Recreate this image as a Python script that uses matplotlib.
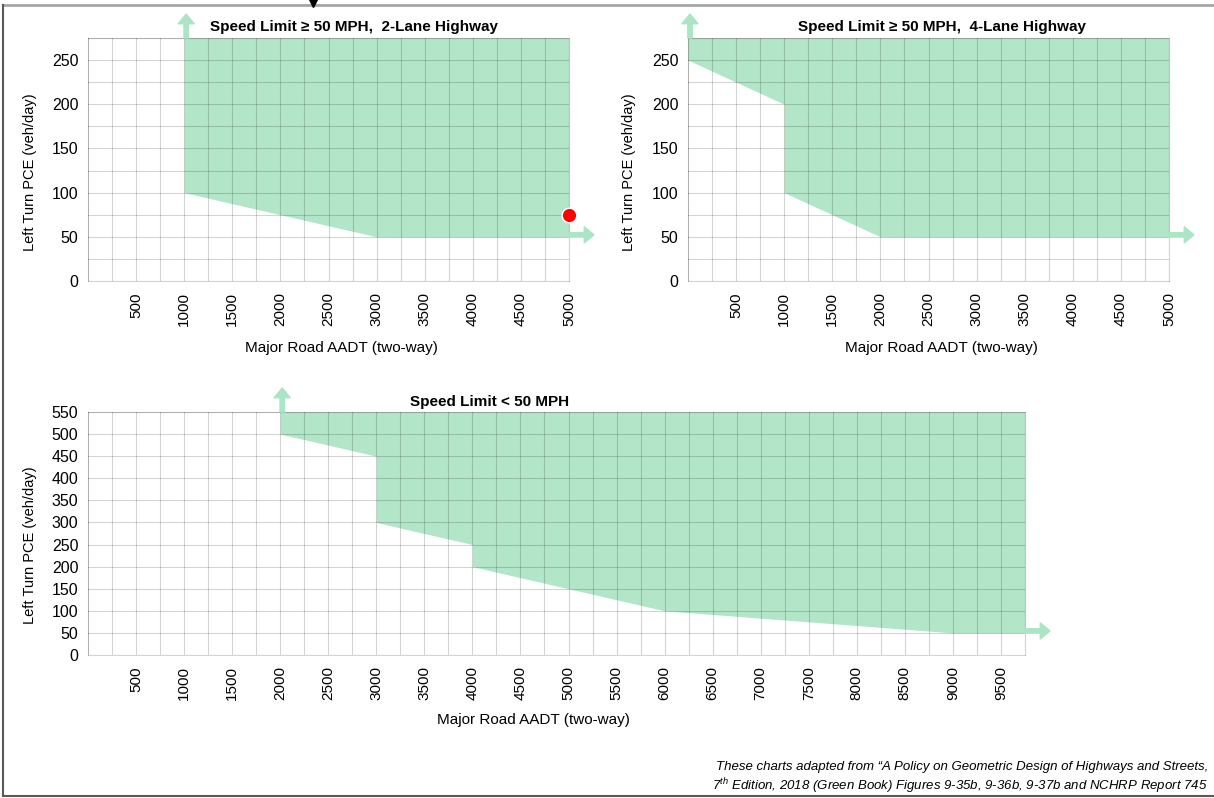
import numpy as np
import matplotlib
matplotlib.use('Agg')
import matplotlib.pyplot as plt
from matplotlib.lines import Line2D

plt.rcParams['font.family'] = ['Liberation Sans Narrow', 'Liberation Sans', 'DejaVu Sans']
plt.rcParams['mathtext.fontset'] = 'custom'
plt.rcParams['mathtext.it'] = 'Liberation Sans:italic'
plt.rcParams['mathtext.rm'] = 'Liberation Sans'

# ---- data (boundary of the "left-turn lane warranted" zone) ----
aadt_2lane = [1000, 2000, 3000, 5000]
pce_2lane = [100, 75, 50, 50]

aadt_4lane = [0, 500, 1000, 1000, 1500, 2000, 5000]
pce_4lane = [250, 225, 200, 100, 75, 50, 50]

aadt_low = [2000, 2500, 3000, 3000, 3500, 4000, 4000, 4500, 5000, 5500, 6000, 9000, 9750]
pce_low = [500, 475, 450, 300, 275, 250, 200, 175, 150, 125, 100, 50, 50]

# example point on the 2-lane chart
pt_aadt, pt_pce = 5000, 75

titles = ['Speed Limit \u2265 50 MPH,  2-Lane Highway',
          'Speed Limit \u2265 50 MPH,  4-Lane Highway',
          'Speed Limit < 50 MPH']
xlab = 'Major Road AADT (two-way)'
ylab = 'Left Turn PCE (veh/day)'

W, H = 1214, 798
fill_c = '#b3e6c9'
arrow_c = '#abe5c5'


def fx(px):
    return px / W


def fy(py):
    return 1 - py / H


fig = plt.figure(figsize=(W / 100, H / 100), dpi=100)


def make_axes(left, right, top, bottom, xmax, ymax, ystep, ylabstep):
    ax = fig.add_axes([fx(left), fy(bottom), fx(right - left), (bottom - top) / H])
    ax.set_xlim(0, xmax)
    ax.set_ylim(0, ymax)
    xt = np.arange(0, xmax + 1, 250)
    ax.set_xticks(xt)
    ax.set_xticklabels(['' if (v % 500 or v == 0) else str(v) for v in xt],
                       rotation=90, fontsize=11)
    yt = np.arange(0, ymax + 1, ystep)
    ax.set_yticks(yt)
    ax.set_yticklabels([str(v) if v % ylabstep == 0 else '' for v in yt], fontsize=11.5)
    ax.tick_params(length=0, pad=7)
    ax.tick_params(axis='x', pad=8)
    ax.grid(True, color='black', alpha=0.17, lw=0.8)
    for s in ax.spines.values():
        s.set_edgecolor((0, 0, 0, 0.17))
        s.set_linewidth(0.8)
    return ax


def arrows(ax, x_up, ymax, y_right, xmax, up_px, right_px, h_px, w_px):
    kw = dict(arrowstyle='simple,head_length=0.7,head_width=1.15,tail_width=0.32',
              color=arrow_c, shrinkA=0, shrinkB=0, mutation_scale=10)
    dx = 2 * xmax / w_px
    dy = 2 * ymax / h_px
    ax.annotate('', xy=(x_up + dx, 1 + up_px / h_px), xycoords=('data', 'axes fraction'),
                xytext=(x_up + dx, 1.0), textcoords=('data', 'axes fraction'),
                arrowprops=kw, annotation_clip=False)
    ax.annotate('', xy=(1 + right_px / w_px, y_right + dy), xycoords=('axes fraction', 'data'),
                xytext=(1.0, y_right + dy), textcoords=('axes fraction', 'data'),
                arrowprops=kw, annotation_clip=False)


# top-left: 2-lane highway
ax1 = make_axes(88, 569, 38, 281, 5000, 275, 25, 50)
ax1.fill_between(aadt_2lane, pce_2lane, 275, color=fill_c, lw=0, zorder=1)
arrows(ax1, 1000, 275, 50, 5000, 24, 25, 243, 481)
ax1.plot(pt_aadt, pt_pce, 'o', ms=10.5, mfc='#ff0000', mec='white', mew=1,
         clip_on=False, zorder=6)

# top-right: 4-lane highway
ax2 = make_axes(688, 1169, 38, 281, 5000, 275, 25, 50)
ax2.fill_between(aadt_4lane, pce_4lane, 275, color=fill_c, lw=0, zorder=1)
arrows(ax2, 0, 275, 50, 5000, 24, 25, 243, 481)

# bottom: speed limit < 50 mph
ax3 = make_axes(88, 1025, 412, 655, 9750, 550, 50, 50)
ax3.fill_between(aadt_low, pce_low, 550, color=fill_c, lw=0, zorder=1)
arrows(ax3, 2000, 550, 50, 9750, 24, 25, 243, 937)

# titles and axis labels
for tx, ty, t in [(354, 27, titles[0]), (942, 27, titles[1]), (490, 402, titles[2])]:
    fig.text(fx(tx), fy(ty), t, ha='center', va='center', fontsize=11, fontweight='bold')
for tx, ty in [(341, 348), (941, 348), (533, 720)]:
    fig.text(fx(tx), fy(ty), xlab, ha='center', va='center', fontsize=11)
for tx, ty in [(30, 172), (629, 172), (30, 545)]:
    fig.text(fx(tx), fy(ty), ylab, ha='center', va='center', rotation=90, fontsize=10.5)

# footnote
fig.text(fx(1208), fy(767),
         'These charts adapted from \u201cA Policy on Geometric Design of Highways and Streets,',
         ha='right', va='center', fontsize=9.5, style='italic')
fig.text(fx(1208), fy(786),
         r'7$^{th}$ Edition, 2018 (Green Book) Figures 9-35b, 9-36b, 9-37b and NCHRP Report 745',
         ha='right', va='center', fontsize=9.5, style='italic')

# page frame
fig.add_artist(Line2D([fx(3), fx(W)], [fy(5), fy(5)], color='#a6a6a6', lw=2))
fig.add_artist(Line2D([fx(3), fx(3)], [fy(5), fy(796)], color='#595959', lw=1.5))
fig.add_artist(Line2D([fx(3), fx(W)], [fy(796), fy(796)], color='#595959', lw=1.5))
fig.add_artist(Line2D([fx(313)], [fy(3)], marker='v', ms=6, color='black', lw=0))

fig.savefig('out.png', dpi=100)
